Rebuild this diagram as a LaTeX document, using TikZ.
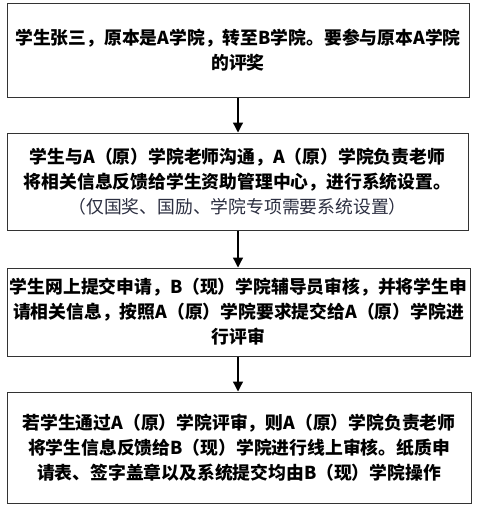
\documentclass[tikz,border=0pt]{standalone}
\usepackage{fontspec}
\newfontfamily\cjk{Noto Sans CJK SC}
\usetikzlibrary{arrows.meta}
\begin{document}
\begin{tikzpicture}[x=1pt,y=-1pt,
  flowbox/.style={draw=black!80, line width=1pt, fill=white, inner sep=2pt,
    align=center, font=\cjk\bfseries\fontsize{17.8}{25}\selectfont, text=black},
  flowarrow/.style={draw=black, line width=1.3pt, -{Triangle[length=10pt,width=10pt]}}]
\path[use as bounding box] (0,0) rectangle (480,514);
\node[flowbox, minimum width=462pt, minimum height=94pt] (b1) at (238,50)
  {学生张三，原本是A学院，转至B学院。要参与原本A学院\\的评奖};
\node[flowbox, minimum width=461pt, minimum height=97pt] (b2) at (237.5,181.5)
  {学生与A（原）学院老师沟通，A（原）学院负责老师\\将相关信息反馈给学生资助管理中心，进行系统设置。\\
   {\mdseries\color[rgb]{0.17,0.18,0.25}（仅国奖、国励、学院专项需要系统设置）}};
\node[flowbox, minimum width=463pt, minimum height=88pt] (b3) at (238.5,312)
  {学生网上提交申请，B（现）学院辅导员审核，并将学生申\\请相关信息，按照A（原）学院要求提交给A（原）学院进\\行评审};
\node[flowbox, minimum width=464pt, minimum height=111pt] (b4) at (239,447.5)
  {若学生通过A（原）学院评审，则A（原）学院负责老师\\将学生信息反馈给B（现）学院进行线上审核。纸质申\\请表、签字盖章以及系统提交均由B（现）学院操作};
\draw[flowarrow] (b1.south -| 238,0) -- (b2.north -| 238,0);
\draw[flowarrow] (b2.south -| 238,0) -- (b3.north -| 238,0);
\draw[flowarrow] (b3.south -| 238,0) -- (b4.north -| 238,0);
\end{tikzpicture}
\end{document}
